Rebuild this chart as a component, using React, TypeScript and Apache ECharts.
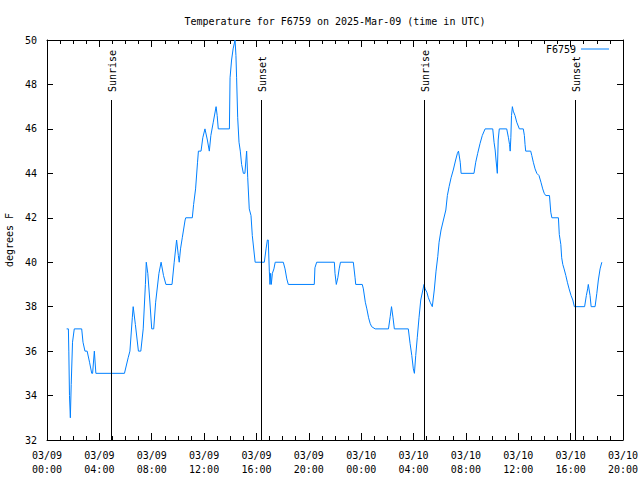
import React, { useEffect, useRef } from "react";
import * as echarts from "echarts";

const times = [
  "03/09 01:30", "03/09 01:38", "03/09 01:40", "03/09 01:43", "03/09 01:47", "03/09 01:51", "03/09 01:57", "03/09 02:05", "03/09 02:39", "03/09 02:45",
  "03/09 02:54", "03/09 03:04", "03/09 03:15", "03/09 03:25", "03/09 03:29", "03/09 03:37", "03/09 03:44", "03/09 05:55", "03/09 06:12", "03/09 06:20",
  "03/09 06:31", "03/09 06:35", "03/09 06:45", "03/09 06:59", "03/09 07:10", "03/09 07:21", "03/09 07:31", "03/09 07:35", "03/09 07:42", "03/09 07:51",
  "03/09 08:00", "03/09 08:09", "03/09 08:18", "03/09 08:33", "03/09 08:43", "03/09 08:54", "03/09 09:05", "03/09 09:33", "03/09 09:43", "03/09 09:54",
  "03/09 10:02", "03/09 10:06", "03/09 10:12", "03/09 10:20", "03/09 10:33", "03/09 10:36", "03/09 11:06", "03/09 11:12", "03/09 11:21", "03/09 11:30",
  "03/09 11:34", "03/09 11:46", "03/09 11:54", "03/09 12:04", "03/09 12:15", "03/09 12:24", "03/09 12:31", "03/09 12:42", "03/09 12:55", "03/09 13:00",
  "03/09 13:05", "03/09 13:56", "03/09 13:59", "03/09 14:06", "03/09 14:13", "03/09 14:22", "03/09 14:26", "03/09 14:29", "03/09 14:34", "03/09 14:40",
  "03/09 14:46", "03/09 14:52", "03/09 15:00", "03/09 15:07", "03/09 15:15", "03/09 15:20", "03/09 15:27", "03/09 15:35", "03/09 15:41", "03/09 15:54",
  "03/09 16:36", "03/09 16:44", "03/09 16:50", "03/09 16:54", "03/09 16:59", "03/09 17:02", "03/09 17:05", "03/09 17:08", "03/09 17:13", "03/09 17:20",
  "03/09 17:26", "03/09 18:03", "03/09 18:11", "03/09 18:19", "03/09 18:26", "03/09 20:25", "03/09 20:28", "03/09 20:36", "03/09 21:57", "03/09 22:00",
  "03/09 22:06", "03/09 22:13", "03/09 22:19", "03/09 22:25", "03/09 23:24", "03/09 23:32", "03/09 23:35", "03/10 00:05", "03/10 00:10", "03/10 00:19",
  "03/10 00:26", "03/10 00:34", "03/10 00:41", "03/10 00:48", "03/10 01:04", "03/10 02:05", "03/10 02:13", "03/10 02:19", "03/10 02:26", "03/10 02:32",
  "03/10 03:36", "03/10 03:44", "03/10 03:52", "03/10 03:59", "03/10 04:04", "03/10 04:10", "03/10 04:17", "03/10 04:25", "03/10 04:33", "03/10 04:48",
  "03/10 04:53", "03/10 05:01", "03/10 05:08", "03/10 05:16", "03/10 05:26", "03/10 05:35", "03/10 05:43", "03/10 05:51", "03/10 05:57", "03/10 06:06",
  "03/10 06:17", "03/10 06:28", "03/10 06:35", "03/10 06:43", "03/10 06:52", "03/10 07:02", "03/10 07:13", "03/10 07:21", "03/10 07:26", "03/10 07:34",
  "03/10 07:38", "03/10 08:37", "03/10 08:45", "03/10 08:54", "03/10 09:05", "03/10 09:15", "03/10 09:28", "03/10 10:03", "03/10 10:09", "03/10 10:14",
  "03/10 10:18", "03/10 10:24", "03/10 10:28", "03/10 10:33", "03/10 11:07", "03/10 11:15", "03/10 11:20", "03/10 11:23", "03/10 11:26", "03/10 11:29",
  "03/10 11:33", "03/10 11:37", "03/10 11:45", "03/10 11:53", "03/10 12:05", "03/10 12:23", "03/10 12:28", "03/10 12:31", "03/10 12:34", "03/10 12:57",
  "03/10 13:02", "03/10 13:09", "03/10 13:17", "03/10 13:25", "03/10 13:35", "03/10 13:44", "03/10 13:52", "03/10 13:59", "03/10 14:06", "03/10 14:23",
  "03/10 14:29", "03/10 14:34", "03/10 15:04", "03/10 15:08", "03/10 15:15", "03/10 15:19", "03/10 15:24", "03/10 15:30", "03/10 15:38", "03/10 15:45",
  "03/10 15:53", "03/10 16:02", "03/10 16:10", "03/10 16:17", "03/10 17:04", "03/10 17:12", "03/10 17:18", "03/10 17:21", "03/10 17:29", "03/10 17:34",
  "03/10 17:52", "03/10 18:00", "03/10 18:07", "03/10 18:15", "03/10 18:23",
];

const temps = [
  37, 37, 36, 34, 33, 34.5, 36.4, 37, 37, 36.4,
  36, 36, 35.5, 35, 35, 36, 35, 35, 35.7, 36,
  37.5, 38, 37.2, 36, 36, 37, 39, 40, 39.5, 38.3,
  37, 37, 38.2, 39.5, 40, 39.4, 39, 39, 40, 41,
  40.3, 40, 40.6, 41.1, 41.9, 42, 42, 42.6, 43.3, 44.5,
  45, 45, 45.6, 46, 45.5, 45, 45.7, 46.3, 47, 46.6,
  46, 46, 48.3, 49.1, 49.6, 50, 49.3, 48.3, 46.5, 45.4,
  45, 44.4, 44, 44, 45, 43.8, 42.4, 42.1, 41.2, 40,
  40, 40.6, 41, 41, 39.6, 39, 39.5, 39, 39.5, 39.7,
  40, 40, 39.7, 39.25, 39, 39, 39.75, 40, 40, 39.5,
  39, 39.3, 39.7, 40, 40, 39.3, 39, 39, 38.8, 38.2,
  37.9, 37.5, 37.25, 37.1, 37, 37, 37.55, 38, 37.5, 37,
  37, 36.35, 35.8, 35.2, 35, 35.8, 36.6, 37.5, 38.3, 39,
  38.8, 38.65, 38.4, 38.2, 38, 38.75, 39.6, 40.25, 40.9, 41.45,
  41.9, 42.35, 43, 43.4, 43.8, 44.15, 44.6, 44.9, 45, 44.5,
  44, 44, 44.5, 44.9, 45.35, 45.7, 46, 46, 45.4, 45.05,
  44.6, 44, 45.5, 46, 46, 45.6, 45.3, 45, 45.6, 46.6,
  47, 46.8, 46.6, 46.3, 46, 46, 45.7, 45.3, 45, 45,
  44.8, 44.5, 44.2, 44, 43.9, 43.6, 43.3, 43.1, 43, 43,
  42.25, 42, 42, 41.25, 40.8, 40.2, 39.9, 39.7, 39.4, 39.1,
  38.8, 38.5, 38.3, 38, 38, 38.5, 38.8, 39, 38.5, 38,
  38, 38.6, 39.2, 39.7, 40,
];

const sunTimes = ["03/09 04:55", "03/09 16:21", "03/10 04:50", "03/10 16:22"];
const sunLabels = ["Sunrise", "Sunset", "Sunrise", "Sunset"];
const sunLineTop = 47.3;

const xRange = ["03/09 00:00", "03/10 20:00"];
const yMin = 32;
const yMax = 50;
const yStep = 2;
const seriesName = "F6759";
const titleText = "Temperature for F6759 on 2025-Mar-09 (time in UTC)";
const yName = "degrees F";

const HOUR = 3600000;

function toMs(s: string): number {
  const [md, hm] = s.split(" ");
  const [mo, d] = md.split("/").map(Number);
  const [hh, mm] = hm.split(":").map(Number);
  return Date.UTC(2025, mo - 1, d, hh, mm);
}

export default function App() {
  const ref = useRef<HTMLDivElement>(null);
  useEffect(() => {
    const chart = echarts.init(ref.current as HTMLDivElement, null, { renderer: "svg" });
    const font = "DejaVu Sans Mono";
    const data = times.map((t, i) => [toMs(t), temps[i]]);
    const xMin = toMs(xRange[0]);
    const xMax = toMs(xRange[1]);
    const p2 = (n: number) => String(n).padStart(2, "0");
    const fmt = (v: number) => {
      const d = new Date(v);
      return `${p2(d.getUTCMonth() + 1)}/${p2(d.getUTCDate())}\n${p2(d.getUTCHours())}:${p2(d.getUTCMinutes())}`;
    };
    const black = { color: "#000", width: 1 };
    const xBase: any = {
      type: "value",
      min: xMin,
      max: xMax,
      interval: 4 * HOUR,
      splitLine: { show: false },
      axisLine: { show: true, onZero: false, lineStyle: black },
      axisTick: { show: true, inside: true, length: 7, lineStyle: black },
      minorTick: { show: true, splitNumber: 4, length: 4, lineStyle: black },
      minorSplitLine: { show: false },
    };
    const yBase: any = {
      type: "value",
      min: yMin,
      max: yMax,
      interval: yStep,
      splitLine: { show: false },
      axisLine: { show: true, onZero: false, lineStyle: black },
      axisTick: { show: true, inside: true, length: 6, lineStyle: black },
    };
    const textStyle = { fontFamily: font, fontSize: 10, color: "#000" };
    chart.setOption({
      animation: false,
      backgroundColor: "#fff",
      grid: {
        left: 47,
        right: 17,
        top: 40,
        bottom: 40,
        containLabel: false,
        outerBoundsMode: "none",
      },
      xAxis: [
        {
          ...xBase,
          position: "bottom",
          axisLabel: { ...textStyle, formatter: fmt, margin: 8, lineHeight: 14 },
        },
        { ...xBase, position: "top", axisLabel: { show: false } },
      ],
      yAxis: [
        {
          ...yBase,
          position: "left",
          name: yName,
          nameLocation: "middle",
          nameRotate: 90,
          nameGap: 27,
          nameTextStyle: textStyle,
          axisLabel: { ...textStyle, margin: 10 },
        },
        { ...yBase, position: "right", axisLabel: { show: false } },
      ],
      legend: {
        data: [seriesName],
        right: 31,
        top: 44,
        padding: 0,
        align: "right",
        icon: "rect",
        itemWidth: 28,
        itemHeight: 1,
        selectedMode: false,
        textStyle,
      },
      series: [
        {
          name: seriesName,
          type: "line",
          data,
          xAxisIndex: 0,
          yAxisIndex: 0,
          symbol: "none",
          showSymbol: false,
          lineStyle: { color: "#0080ff", width: 1 },
          itemStyle: { color: "#0080ff" },
          clip: false,
          markLine: {
            silent: true,
            symbol: ["none", "none"],
            label: { show: false },
            lineStyle: { color: "#000", width: 1, type: "solid" },
            emphasis: { disabled: true },
            data: sunTimes.map((t) => [
              { coord: [toMs(t), yMin] },
              { coord: [toMs(t), sunLineTop] },
            ]),
          },
        },
      ],
    });
    const [cx, cy] = chart.convertToPixel({ seriesIndex: 0 }, [(xMin + xMax) / 2, yMax]) as number[];
    const labels = sunTimes.map((t, i) => {
      const [px, py] = chart.convertToPixel({ seriesIndex: 0 }, [toMs(t), sunLineTop]) as number[];
      return {
        type: "text",
        x: px + 1,
        y: py - 8,
        rotation: Math.PI / 2,
        silent: true,
        style: {
          text: sunLabels[i],
          fontFamily: font,
          fontSize: 10,
          fill: "#000",
          textAlign: "left",
          textVerticalAlign: "middle",
        },
      };
    });
    chart.setOption({
      graphic: [
        {
          type: "text",
          x: cx,
          y: cy - 19,
          silent: true,
          style: {
            text: titleText,
            fontFamily: font,
            fontSize: 10,
            fill: "#000",
            textAlign: "center",
            textVerticalAlign: "middle",
          },
        },
        ...labels,
      ],
    });
    return () => chart.dispose();
  }, []);
  return <div ref={ref} style={{ position: "fixed", left: 0, top: 0, width: 640, height: 480 }} />;
}
